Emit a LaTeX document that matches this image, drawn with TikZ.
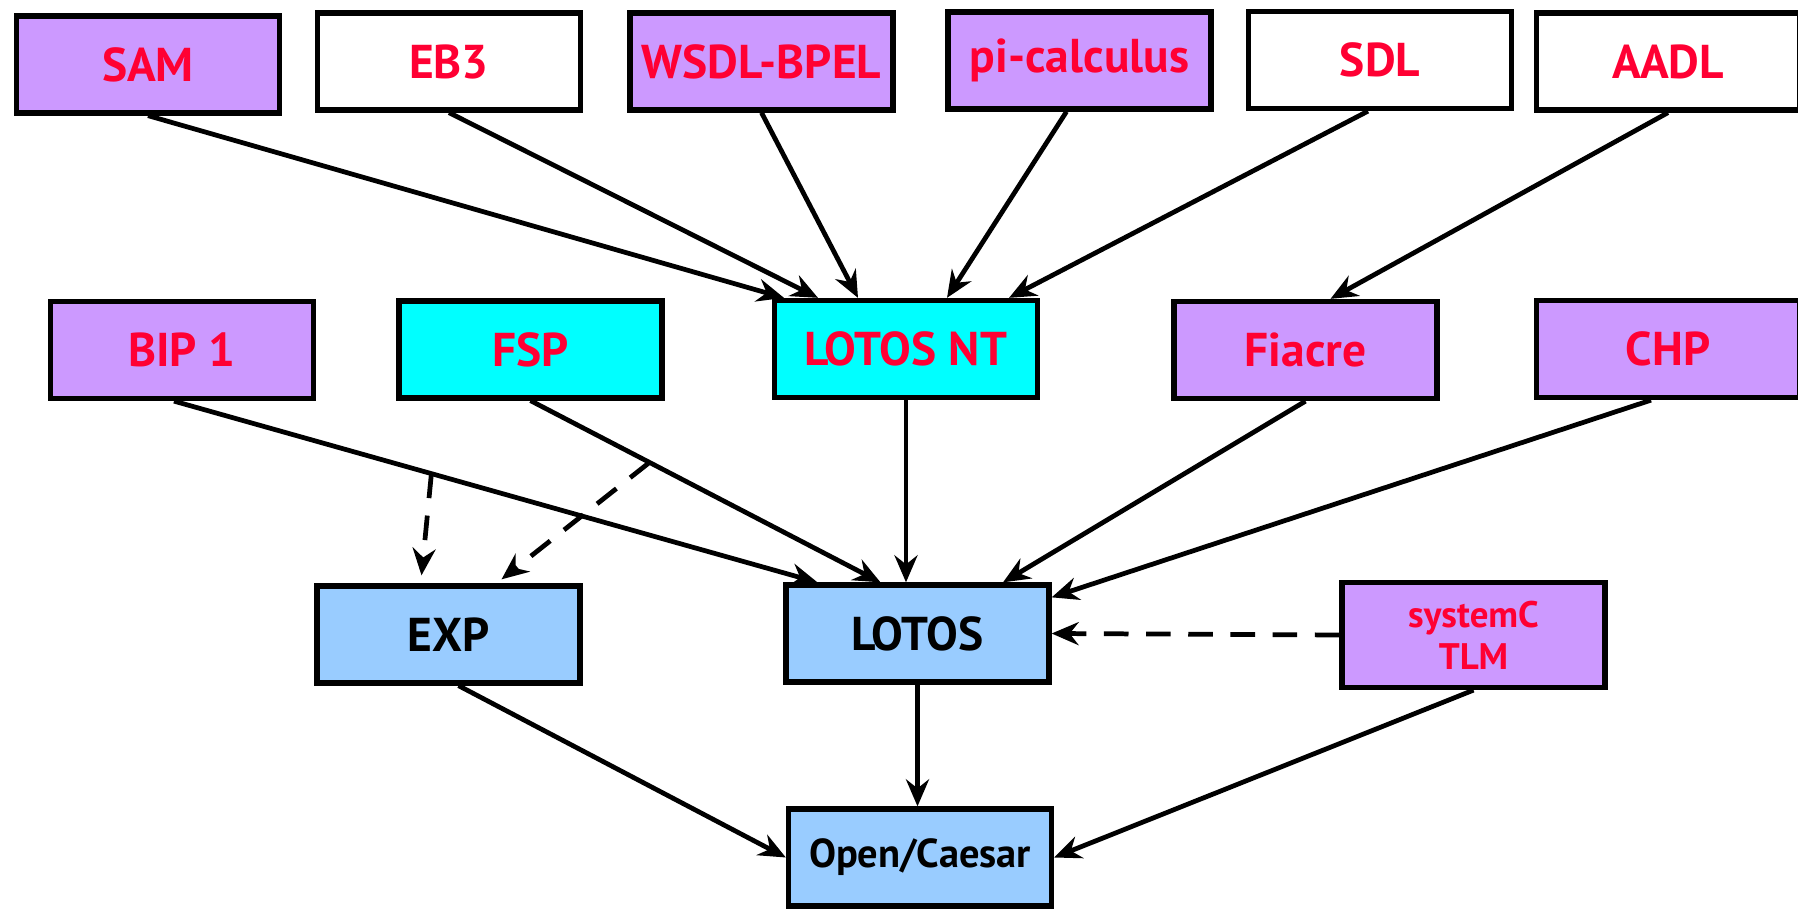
\documentclass[tikz,border=0pt]{standalone}
\usepackage{fontspec}
\setmainfont{PT Sans}
\usepackage{tikz}
\usetikzlibrary{arrows.meta, positioning}
\definecolor{langpurple}{HTML}{CC99FF}
\definecolor{langcyan}{HTML}{00FFFF}
\definecolor{toolblue}{HTML}{99CCFF}
\definecolor{labelred}{HTML}{FF0033}
\tikzset{
	box/.style={
		rectangle,
		minimum width=2.63cm,
		minimum height=0.97cm,
		text centered,
		draw=black,
		line width=1.5pt,
		font=\fontsize{13.5}{16}\selectfont\bfseries
	},
	frontend/.style={box, fill=langpurple, text=labelred},
	plain/.style={box, fill=white, text=labelred},
	pivot/.style={box, fill=langcyan, text=labelred},
	tool/.style={box, fill=toolblue, text=black},
	arrow/.style={line width=1.35pt,-{Stealth[length=0.27cm,width=0.23cm,inset=0.09cm]}},
	optarrow/.style={arrow, dash pattern=on 7pt off 5pt}
}

\begin{document}
\begin{tikzpicture}
	\useasboundingbox (0,0) rectangle (17.98,9.09);
	% top row
	\node (sam) [frontend] at (1.48,8.445) {SAM};
	\node (eb3) [plain] at (4.49,8.475) {EB3};
	\node (wsdl) [frontend] at (7.615,8.475) {WSDL-BPEL};
	\node (pi) [frontend] at (10.795,8.485) {pi-calculus};
	\node (sdl) [plain] at (13.80,8.49) {SDL};
	\node (aadl) [plain] at (16.68,8.475) {AADL};
	% middle row
	\node (bip) [frontend] at (1.82,5.59) {BIP 1};
	\node (fsp) [pivot] at (5.305,5.595) {FSP};
	\node (lotosnt) [pivot] at (9.06,5.60) {LOTOS NT};
	\node (fiacre) [frontend] at (13.055,5.59) {Fiacre};
	\node (chp) [frontend] at (16.68,5.60) {CHP};
	% back ends
	\node (exp) [tool] at (4.485,2.745) {EXP};
	\node (lotos) [tool] at (9.175,2.755) {LOTOS};
	\node (systemc) [frontend, minimum height=1.05cm, align=center,
		font=\fontsize{10.5}{12}\selectfont\bfseries] at (14.735,2.74) {systemC\\TLM};
	\node (caesar) [tool, font=\fontsize{11.5}{14}\selectfont\bfseries] at (9.20,0.515) {Open/Caesar};

	\draw [arrow] (sam.south) -- ([xshift=-1.22cm]lotosnt.north);
	\draw [arrow] (eb3.south) -- ([xshift=-0.88cm]lotosnt.north);
	\draw [arrow] (wsdl.south) -- ([xshift=-0.48cm]lotosnt.north);
	\draw [arrow] ([xshift=-0.13cm]pi.south) -- ([xshift=0.41cm]lotosnt.north);
	\draw [arrow] ([xshift=-0.12cm]sdl.south) -- ([xshift=1.03cm]lotosnt.north);
	\draw [arrow] (aadl.south) -- ([xshift=0.25cm]fiacre.north);

	\draw [arrow] ([xshift=-0.08cm]bip.south) -- coordinate[pos=0.4] (bipsplit) ([xshift=-1.0cm]lotos.north);
	\draw [arrow] (fsp.south) -- coordinate[pos=0.34] (fspsplit) ([xshift=-0.37cm]lotos.north);
	\draw [arrow] (lotosnt.south) -- (lotosnt.south |- lotos.north);
	\draw [arrow] (fiacre.south) -- ([xshift=0.855cm]lotos.north);
	\draw [arrow] ([xshift=-0.17cm]chp.south) -- ([yshift=-0.15cm]lotos.north east);

	\draw [optarrow] (bipsplit) -- ([xshift=-0.27cm,yshift=0.08cm]exp.north);
	\draw [optarrow] (fspsplit) -- ([xshift=0.53cm,yshift=0.04cm]exp.north);
	\draw [optarrow] (systemc.west) -- (lotos.east);

	\draw [arrow] ([xshift=0.1cm]exp.south) -- (caesar.west);
	\draw [arrow] (lotos.south) -- (lotos.south |- caesar.north);
	\draw [arrow] (systemc.south) -- (caesar.east);
\end{tikzpicture}
\end{document}
